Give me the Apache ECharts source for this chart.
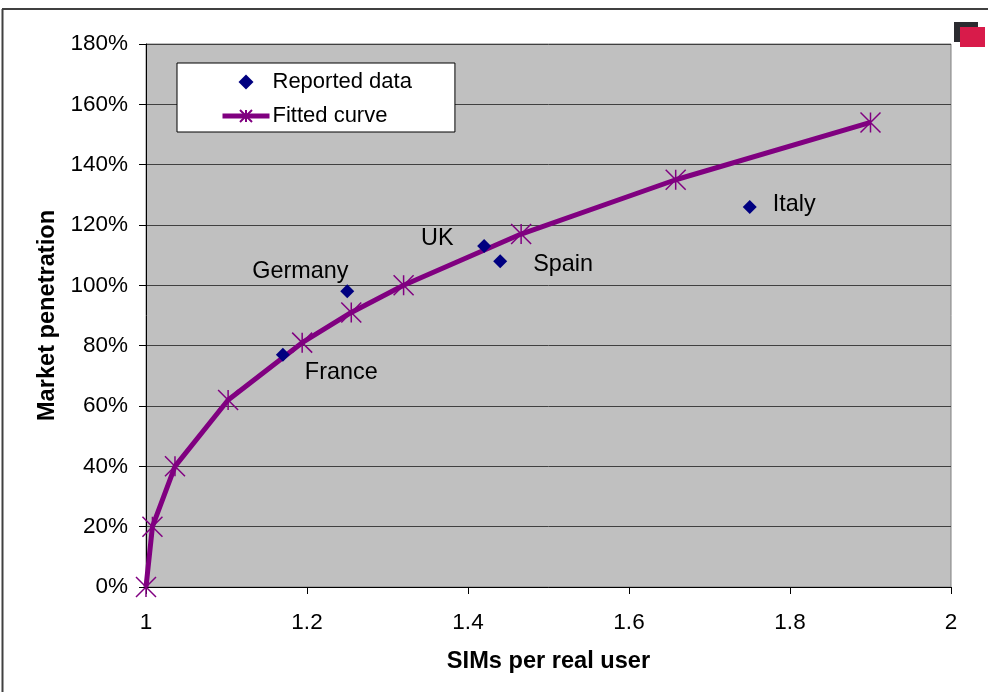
<!DOCTYPE html>
<html>
<head>
<meta charset="utf-8">
<script src="https://cdn.jsdelivr.net/npm/echarts@6/dist/echarts.min.js"></script>
<style>
  html, body { margin: 0; padding: 0; background: #fff; }
  #chart { width: 988px; height: 692px; }
</style>
</head>
<body>
<div id="chart"></div>
<script>
// 读图估算的数据
var reportedX = [1.17, 1.25, 1.42, 1.44, 1.75];
var reportedY = [77, 98, 113, 108, 126];
var reportedNames = ['France', 'Germany', 'UK', 'Spain', 'Italy'];
var fittedX = [1, 1.008, 1.036, 1.102, 1.194, 1.255, 1.32, 1.466, 1.658, 1.9];
var fittedY = [0, 20, 40, 62, 81, 91, 100, 117, 135, 154];

var FONT = '"Liberation Sans", Arial, sans-serif';
var STAR = 'path://M0 0L20 20M20 0L0 20M10 0L10 20';
var DIAMOND = 'path://M7 0L14 7L7 14L0 7Z';
var labelOffsets = [[10, 18], [-107, -20], [-75, -8], [21, 3], [11, -2]];

var myChart = echarts.init(document.getElementById('chart'), null, { renderer: 'canvas' });
myChart.setOption({
    animation: false,
    backgroundColor: '#ffffff',
    textStyle: { fontFamily: FONT },
    grid: {
        left: 146, top: 44, width: 805, height: 543,
        show: true, backgroundColor: '#c0c0c0', borderColor: '#808080', borderWidth: 1
    },
    legend: {
        left: 177, top: 63,
        orient: 'vertical',
        align: 'left',
        backgroundColor: '#ffffff',
        borderColor: '#000000',
        borderWidth: 1,
        borderRadius: 0,
        padding: [8, 43, 5, 43],
        itemWidth: 47,
        itemHeight: 15,
        itemGap: 12,
        lineStyle: { width: 5 },
        textStyle: { fontFamily: FONT, fontSize: 22, color: '#000', padding: [0, 0, 0, -2] },
        data: ['Reported data', 'Fitted curve']
    },
    xAxis: {
        type: 'value', min: 1, max: 2, interval: 0.2,
        name: 'SIMs per real user', nameLocation: 'middle', nameGap: 62,
        nameTextStyle: { fontFamily: FONT, fontSize: 23.6, fontWeight: 'bold', color: '#000' },
        axisLine: { onZero: false, lineStyle: { color: '#000', width: 1 } },
        axisTick: { show: true, length: 7, lineStyle: { color: '#000' } },
        axisLabel: { fontFamily: FONT, fontSize: 22.5, color: '#000', margin: 24 },
        splitLine: { show: false }
    },
    yAxis: {
        type: 'value', min: 0, max: 180, interval: 20,
        name: 'Market penetration', nameLocation: 'middle', nameGap: 87, nameRotate: 90,
        nameTextStyle: { fontFamily: FONT, fontSize: 23.6, fontWeight: 'bold', color: '#000' },
        axisLine: { show: true, onZero: false, lineStyle: { color: '#000', width: 1 } },
        axisTick: { show: true, length: 7, lineStyle: { color: '#000' } },
        axisLabel: { fontFamily: FONT, fontSize: 22.5, color: '#000', margin: 18, padding: [2, 0, 0, 0], formatter: '{value}%' },
        splitLine: { show: true, lineStyle: { color: '#404040', width: 1 } }
    },
    series: [
        {
            name: 'Fitted curve',
            type: 'line',
            smooth: false,
            symbol: STAR,
            symbolSize: 20,
            itemStyle: { color: '#800080', borderColor: '#800080', borderWidth: 1.5 },
            lineStyle: { color: '#800080', width: 5 },
            data: fittedX.map(function (x, i) { return [x, fittedY[i]]; }),
            z: 3
        },
        {
            name: 'Reported data',
            type: 'scatter',
            symbol: DIAMOND,
            symbolSize: 14,
            itemStyle: { color: '#000080', opacity: 1 },
            data: reportedX.map(function (x, i) {
                return {
                    value: [x, reportedY[i]],
                    label: {
                        show: true,
                        position: 'right',
                        offset: labelOffsets[i],
                        formatter: reportedNames[i],
                        fontFamily: FONT,
                        fontSize: 23.4,
                        color: '#000',
                        opacity: 1
                    }
                };
            }),
            z: 4
        }
    ],
    graphic: [
        // 外框（只看得到左边和上边）
        { type: 'line', silent: true, shape: { x1: 2.5, y1: 9, x2: 2.5, y2: 692 }, style: { stroke: '#404040', lineWidth: 2 } },
        { type: 'line', silent: true, shape: { x1: 2, y1: 9, x2: 988, y2: 9 }, style: { stroke: '#404040', lineWidth: 2 } },
        // 右上角的小图标
        { type: 'rect', silent: true, shape: { x: 954, y: 22, width: 24, height: 20 }, style: { fill: '#2b2b30' } },
        { type: 'rect', silent: true, shape: { x: 960, y: 27, width: 25, height: 20 }, style: { fill: '#d81b4a' } }
    ]
});
</script>
</body>
</html>
